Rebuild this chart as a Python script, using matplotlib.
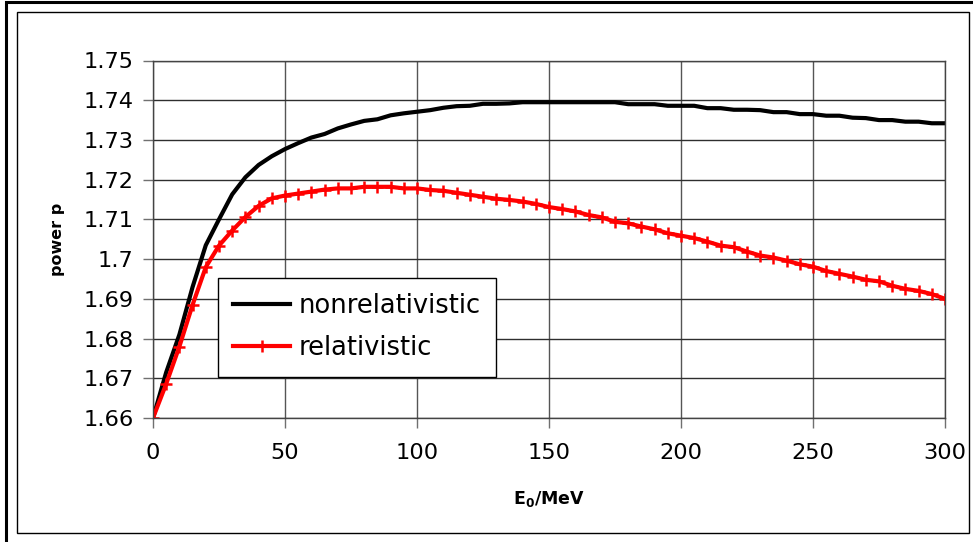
import matplotlib
matplotlib.use("Agg")
import matplotlib.pyplot as plt
from matplotlib.patches import Rectangle
from matplotlib.ticker import FixedLocator

plt.rcParams['font.family'] = ['DejaVu Sans']

# Beam energy E0 in MeV
energy = list(range(0, 301, 5))

# Fitted exponent p, classical kinematics
p_nonrel = [1.6600, 1.6715, 1.6810, 1.6930, 1.7035, 1.7100, 1.7163, 1.7206, 1.7237, 1.7259,
            1.7277, 1.7292, 1.7306, 1.7315, 1.7329, 1.7339, 1.7348, 1.7352, 1.7362, 1.7367,
            1.7371, 1.7375, 1.7381, 1.7385, 1.7386, 1.7391, 1.7391, 1.7392, 1.7395, 1.7395,
            1.7395, 1.7395, 1.7395, 1.7395, 1.7395, 1.7395, 1.7390, 1.7390, 1.7390, 1.7386,
            1.7386, 1.7386, 1.7380, 1.7380, 1.7376, 1.7376, 1.7375, 1.7370, 1.7370, 1.7365,
            1.7365, 1.7361, 1.7361, 1.7356, 1.7355, 1.7350, 1.7350, 1.7346, 1.7346, 1.7342,
            1.7342]

# Fitted exponent p, relativistic kinematics
p_rel = [1.6600, 1.6686, 1.6780, 1.6885, 1.6980, 1.7034, 1.7072, 1.7106, 1.7134, 1.7153,
         1.7160, 1.7165, 1.7170, 1.7175, 1.7178, 1.7178, 1.7182, 1.7182, 1.7182, 1.7178,
         1.7178, 1.7174, 1.7172, 1.7167, 1.7162, 1.7157, 1.7152, 1.7149, 1.7145, 1.7139,
         1.7131, 1.7126, 1.7120, 1.7111, 1.7105, 1.7094, 1.7090, 1.7082, 1.7075, 1.7065,
         1.7059, 1.7053, 1.7044, 1.7034, 1.7030, 1.7019, 1.7009, 1.7004, 1.6996, 1.6987,
         1.6981, 1.6970, 1.6963, 1.6956, 1.6948, 1.6944, 1.6933, 1.6925, 1.6920, 1.6912,
         1.6900]

x_ticks = [0, 50, 100, 150, 200, 250, 300]
y_ticks = [1.66, 1.67, 1.68, 1.69, 1.70, 1.71, 1.72, 1.73, 1.74, 1.75]
y_tick_labels = ["1.66", "1.67", "1.68", "1.69", "1.7", "1.71", "1.72", "1.73", "1.74", "1.75"]

W, H = 973, 542
fig = plt.figure(figsize=(W / 100, H / 100), dpi=100)

# chart frame: heavy outer border and thin inner border
fig.add_artist(Rectangle((6 / W, -0.05), 1.2, (H - 2) / H + 0.05, transform=fig.transFigure,
                         fill=False, edgecolor='black', linewidth=2.2))
fig.add_artist(Rectangle((17 / W, 1 - 533 / H), (969 - 17) / W, (533 - 12) / H,
                         transform=fig.transFigure, fill=False, edgecolor='black', linewidth=1.0))

left, right, top, bottom = 153, 945, 60.5, 418
ax = fig.add_axes([left / W, 1 - bottom / H, (right - left) / W, (bottom - top) / H])

ax.set_xlim(0, 300)
ax.set_ylim(1.66, 1.75)
ax.xaxis.set_major_locator(FixedLocator(x_ticks))
ax.yaxis.set_major_locator(FixedLocator(y_ticks))
ax.set_yticklabels(y_tick_labels)
ax.grid(True, axis='x', color='#555555', linewidth=1.0)
ax.grid(True, axis='y', color='#2e2e2e', linewidth=1.0)
ax.set_axisbelow(True)
for s in ax.spines.values():
    s.set_color('#444444')
    s.set_linewidth(1.0)
ax.tick_params(axis='both', direction='out', length=7, width=1, color='#707070',
               labelsize=16.2, labelcolor='black')
ax.tick_params(axis='y', pad=7)
ax.tick_params(axis='x', pad=11)

ax.plot(energy, p_nonrel, color='black', linewidth=3.0, label='nonrelativistic',
        solid_joinstyle='round')
ax.plot(energy, p_rel, color='#ff0000', linewidth=3.0, marker='+', markersize=9,
        markeredgewidth=1.8, label='relativistic', solid_joinstyle='round')

ax.set_xlabel('E$_\\mathregular{0}$/MeV', fontsize=12.5, fontweight='bold', labelpad=19)
ax.set_ylabel('power p', fontsize=11.5, fontweight='bold', labelpad=13)

leg = ax.legend(loc='upper left', bbox_to_anchor=((218 - left) / (right - left),
                                                  (bottom - 278) / (bottom - top)),
                fontsize=18.5, frameon=True, fancybox=False, framealpha=1,
                edgecolor='black', borderpad=0.6, handlelength=2.2, handletextpad=0.35,
                labelspacing=0.62, borderaxespad=0)
leg.get_frame().set_linewidth(1.0)

fig.savefig('out.png', dpi=100)
